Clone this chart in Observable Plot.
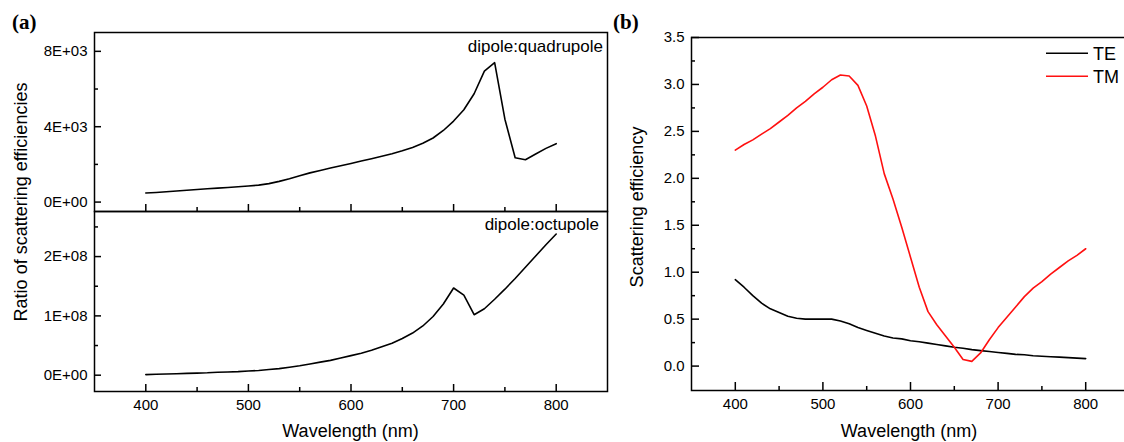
<!DOCTYPE html>
<html><head><meta charset="utf-8">
<script src="https://cdn.jsdelivr.net/npm/d3@7"></script>
<script src="https://cdn.jsdelivr.net/npm/@observablehq/plot@0.6"></script>
<style>
html,body{margin:0;padding:0;background:#fff;overflow:hidden;}
#wrap{position:relative;width:1124px;height:442px;overflow:hidden;font-family:"Liberation Sans",Arial,sans-serif;}
#wrap svg{position:absolute;top:0;}
</style></head><body><div id="wrap"></div>
<script>
// ---------- data ----------
const wavelength = [400,410,420,430,440,450,460,470,480,490,500,510,520,530,540,550,560,570,580,590,600,
  610,620,630,640,650,660,670,680,690,700,710,720,730,740,750,760,770,780,790,800];
const quadRatio = [480,510,550,590,630,670,710,740,770,810,850,900,980,1100,1240,1400,1550,1680,1810,1930,2050,
  2180,2300,2430,2560,2720,2900,3120,3400,3800,4300,4900,5750,6950,7400,4400,2350,2250,2550,2850,3100];
const octRatio = [0.01e8,0.015e8,0.02e8,0.025e8,0.03e8,0.035e8,0.04e8,0.05e8,0.055e8,0.06e8,0.07e8,0.08e8,0.095e8,
  0.11e8,0.135e8,0.16e8,0.19e8,0.22e8,0.25e8,0.29e8,0.33e8,0.37e8,0.42e8,0.48e8,0.54e8,0.62e8,0.71e8,0.83e8,0.99e8,
  1.20e8,1.47e8,1.35e8,1.02e8,1.12e8,1.28e8,1.45e8,1.63e8,1.82e8,2.01e8,2.20e8,2.38e8];
const teEff = [0.92,0.84,0.75,0.67,0.61,0.57,0.53,0.51,0.50,0.50,0.50,0.50,0.48,0.45,0.41,0.38,0.35,0.32,0.30,0.29,0.27,
  0.26,0.245,0.23,0.215,0.20,0.19,0.175,0.165,0.155,0.145,0.135,0.125,0.12,0.11,0.105,0.10,0.095,0.09,0.085,0.08];
const tmEff = [2.30,2.36,2.41,2.47,2.53,2.60,2.67,2.75,2.82,2.90,2.97,3.05,3.10,3.09,2.99,2.77,2.45,2.05,1.78,1.48,1.16,
  0.84,0.58,0.44,0.32,0.20,0.07,0.05,0.14,0.28,0.41,0.52,0.63,0.74,0.83,0.90,0.98,1.05,1.12,1.18,1.25];
const seriesNames = ["TE","TM"];
const seriesColors = ["#000000","#ff1010"];

const xTicks = [400,500,600,700,800];
const xMinor = [450,550,650,750];
const quadTicks = [0,4000,8000];
const quadTickLabels = ["0E+00","4E+03","8E+03"];
const quadMinor = [2000,6000];
const octTicks = [0,1e8,2e8];
const octTickLabels = ["0E+00","1E+08","2E+08"];
const octMinor = [0.5e8,1.5e8,2.5e8];
const effTicks = [0,0.5,1,1.5,2,2.5,3,3.5];
const effTickLabels = ["0.0","0.5","1.0","1.5","2.0","2.5","3.0","3.5"];
const effMinor = [0.25,0.75,1.25,1.75,2.25,2.75,3.25];

const FONT = "Liberation Sans, Arial, sans-serif";
const SERIF = "Liberation Serif, Times New Roman, serif";
const wrap = document.getElementById("wrap");

const quadData = wavelength.map((w,i)=>({w, v: quadRatio[i]}));
const octData = wavelength.map((w,i)=>({w, v: octRatio[i]}));
const effData = seriesNames.flatMap((s,k)=>wavelength.map((w,i)=>({w, v: (k===0?teEff:tmEff)[i], s})));

function inTicksX(vals, len, innerH){ return Plot.tickX(vals,{x:d=>d, insetTop: innerH-len, stroke:"#000", strokeWidth:1.5}); }
function inTicksY(vals, len, innerW){ return Plot.tickY(vals,{y:d=>d, insetRight: innerW-len, stroke:"#000", strokeWidth:1.5}); }
function fmt(vals, labels){ return d => labels[vals.indexOf(d)]; }
function txt(g, x, y, s, size, anchor, opts={}){
  return g.append("text").attr("x",x).attr("y",y).attr("text-anchor",anchor)
    .attr("font-size",size).attr("font-family",opts.family||FONT)
    .attr("font-weight",opts.weight||"normal").attr("fill","#000").text(s);
}

// ---------- panel (a) top ----------
{
  const W=620,H=442,ml=94,mr=13,mt=32,mb=231; const iw=W-ml-mr, ih=H-mt-mb;
  const svg = Plot.plot({
    width:W,height:H,marginLeft:ml,marginRight:mr,marginTop:mt,marginBottom:mb,
    style:{background:"transparent",overflow:"visible",fontFamily:FONT,fontSize:"15px",color:"#000"},
    x:{domain:[350,850],axis:null}, y:{domain:[-500,9000],axis:null},
    marks:[
      Plot.line(quadData,{x:"w",y:"v",stroke:"#000",strokeWidth:1.6}),
      inTicksX(xTicks,7,ih), inTicksX(xMinor,4,ih),
      inTicksY(quadTicks,7,iw), inTicksY(quadMinor,4,iw),
      Plot.axisY(quadTicks,{tickSize:0,tickPadding:7,tickFormat:fmt(quadTicks,quadTickLabels),fontSize:15,label:null}),
      Plot.frame({stroke:"#000",strokeWidth:1.5})
    ]
  });
  wrap.appendChild(svg);
  const g = d3.select(svg);
  txt(g,603,52,"dipole:quadrupole",17,"end");
  txt(g,12,29,"(a)",21,"start",{family:SERIF,weight:"bold"});
  txt(g,613,28.5,"(b)",21,"start",{family:SERIF,weight:"bold"});
  txt(g,0,0,"Ratio of scattering efficiencies",18,"middle").attr("transform","translate(27,202) rotate(-90)");
}
// ---------- panel (a) bottom ----------
{
  const W=620,H=442,ml=94,mr=13,mt=211,mb=51; const iw=W-ml-mr, ih=H-mt-mb;
  const svg = Plot.plot({
    width:W,height:H,marginLeft:ml,marginRight:mr,marginTop:mt,marginBottom:mb,
    style:{background:"transparent",overflow:"visible",fontFamily:FONT,fontSize:"15px",color:"#000"},
    x:{domain:[350,850],axis:null}, y:{domain:[-0.275e8,2.76e8],axis:null},
    marks:[
      Plot.line(octData,{x:"w",y:"v",stroke:"#000",strokeWidth:1.6}),
      inTicksX(xTicks,7,ih), inTicksX(xMinor,4,ih),
      inTicksY(octTicks,7,iw), inTicksY(octMinor,4,iw),
      Plot.axisY(octTicks,{tickSize:0,tickPadding:7,tickFormat:fmt(octTicks,octTickLabels),fontSize:15,label:null}),
      Plot.axisX(xTicks,{tickSize:0,tickPadding:8,tickFormat:d=>String(d),fontSize:15,label:null}),
      Plot.frame({stroke:"#000",strokeWidth:1.5})
    ]
  });
  wrap.appendChild(svg);
  const g = d3.select(svg);
  txt(g,599,230,"dipole:octupole",17,"end");
  txt(g,ml+iw/2,437,"Wavelength (nm)",18,"middle");
}
// ---------- panel (b) ----------
{
  const W=520,H=442,ml=71,mr=11,mt=37,mb=52; const iw=W-ml-mr, ih=H-mt-mb;
  const svg = Plot.plot({
    width:W,height:H,marginLeft:ml,marginRight:mr,marginTop:mt,marginBottom:mb,
    style:{background:"transparent",overflow:"visible",fontFamily:FONT,fontSize:"15px",color:"#000"},
    x:{domain:[350,850],axis:null}, y:{domain:[-0.26,3.5],axis:null},
    color:{domain:seriesNames,range:seriesColors},
    marks:[
      Plot.line(effData,{x:"w",y:"v",z:"s",stroke:"s",strokeWidth:1.6}),
      inTicksX(xTicks,8,ih), inTicksX(xMinor,4,ih),
      inTicksY(effTicks,8,iw), inTicksY(effMinor,4,iw),
      Plot.axisY(effTicks,{tickSize:0,tickPadding:7,tickFormat:fmt(effTicks,effTickLabels),fontSize:15,label:null}),
      Plot.axisX(xTicks,{tickSize:0,tickPadding:8,tickFormat:d=>String(d),fontSize:15,label:null}),
      Plot.frame({stroke:"#000",strokeWidth:1.5})
    ]
  });
  svg.style.left = "620px";
  wrap.appendChild(svg);
  const g = d3.select(svg);
  txt(g,ml+iw/2 - 1,437,"Wavelength (nm)",18,"middle");
  txt(g,0,0,"Scattering efficiency",18,"middle").attr("transform","translate(23,207) rotate(-90)");
  seriesNames.forEach((s,k)=>{
    const y = 53.3 + k*23;
    g.append("line").attr("x1",426).attr("x2",468).attr("y1",y).attr("y2",y).attr("stroke",seriesColors[k]).attr("stroke-width",1.6);
    txt(g,473,y,s,18,"start").attr("dy","0.35em");
  });
}
</script></body></html>
